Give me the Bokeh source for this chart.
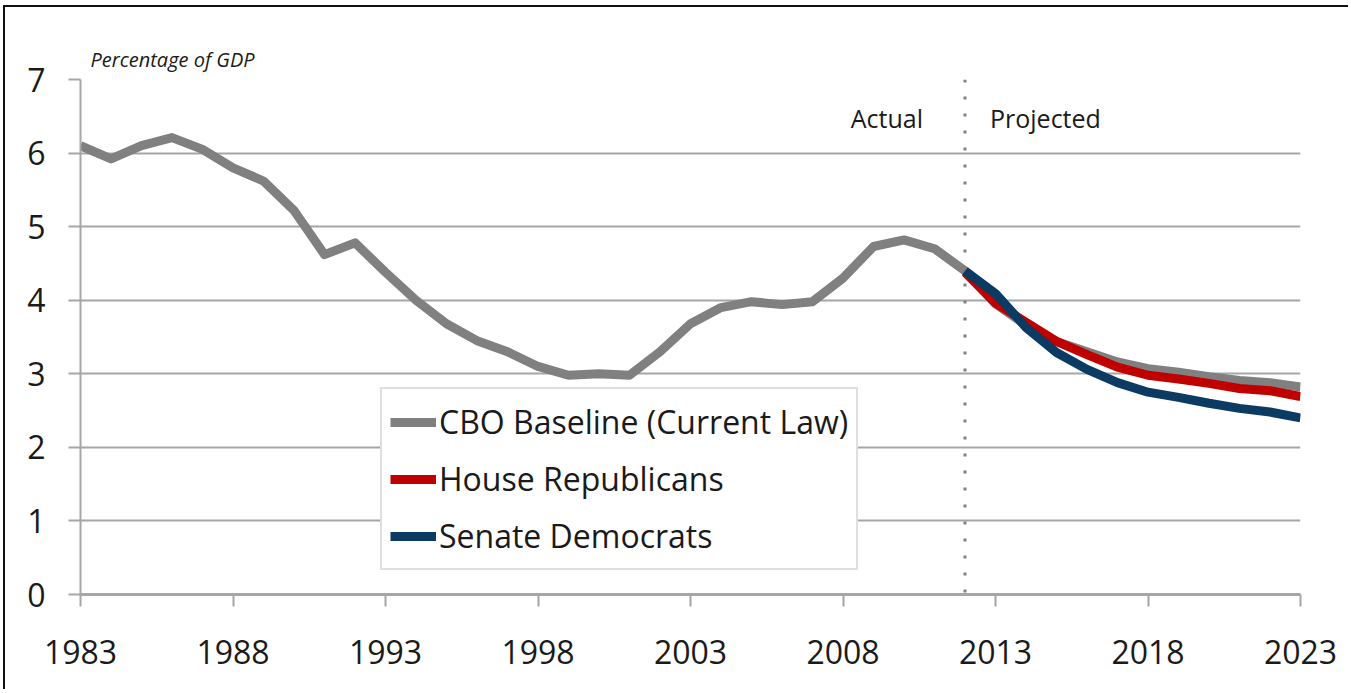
from bokeh.plotting import figure
from bokeh.models import Span, Label, Legend, LegendItem, FixedTicker
from bokeh.embed import file_html
from bokeh.resources import INLINE

# ---- data ----
years_actual = list(range(1983, 2013))
cbo_actual = [6.10, 5.92, 6.10, 6.21, 6.05, 5.80, 5.62, 5.22, 4.62, 4.78,
              4.38, 4.00, 3.68, 3.45, 3.30, 3.10, 2.98, 3.00, 2.98, 3.30,
              3.68, 3.90, 3.98, 3.94, 3.98, 4.30, 4.73, 4.82, 4.70, 4.40]
years_proj = list(range(2012, 2024))
cbo_proj = [4.40, 3.95, 3.66, 3.44, 3.30, 3.16, 3.07, 3.02, 2.96, 2.91, 2.88, 2.82]
house_rep = [4.38, 3.96, 3.70, 3.44, 3.26, 3.09, 2.98, 2.93, 2.87, 2.80, 2.77, 2.69]
senate_dem = [4.40, 4.09, 3.63, 3.29, 3.06, 2.88, 2.75, 2.68, 2.60, 2.53, 2.48, 2.40]
x_ticks = [1983, 1988, 1993, 1998, 2003, 2008, 2013, 2018, 2023]
y_ticks = [0, 1, 2, 3, 4, 5, 6, 7]
divider_year = 2012

cbo_years = years_actual + years_proj[1:]
cbo_vals = cbo_actual + cbo_proj[1:]

FONT = "Open Sans"
GRAY = "#808080"
RED = "#c00000"
BLUE = "#0b3a63"
AXIS = "#a6a6a6"

p = figure(width=1345, height=684, output_backend="svg", toolbar_location=None,
           x_range=(1983, 2023), y_range=(0, 7),
           min_border_left=75, min_border_right=50, min_border_top=72,
           min_border_bottom=97)
p.styles = {"border-top": "2px solid #111", "border-left": "2px solid #111",
            "margin-left": "3px", "margin-top": "5px"}
p.outline_line_color = None
p.background_fill_color = "white"
p.border_fill_color = "white"

p.title.text = "Percentage of GDP"
p.title.align = "left"
p.title.offset = 10
p.title.standoff = 13
p.title.text_font = FONT
p.title.text_font_style = "italic"
p.title.text_font_size = "20px"
p.title.text_color = "#1a1a1a"

# axes
p.xaxis.ticker = FixedTicker(ticks=x_ticks)
p.yaxis.ticker = FixedTicker(ticks=y_ticks)
for ax in (p.xaxis[0], p.yaxis[0]):
    ax.axis_line_color = AXIS
    ax.major_tick_line_color = AXIS
    ax.major_tick_line_width = 2
    ax.major_tick_out = 12
    ax.major_tick_in = 0
    ax.minor_tick_line_color = None
    ax.major_label_text_font = FONT
    ax.major_label_text_font_size = "32px"
    ax.major_label_text_color = "#1a1a1a"
p.xaxis.axis_line_width = 3
p.yaxis.axis_line_width = 2
p.xaxis.major_label_standoff = 33
p.yaxis.major_label_standoff = 23
p.xgrid.grid_line_color = None
p.ygrid.grid_line_color = AXIS
p.ygrid.grid_line_width = 2

# lines
r_cbo = p.line(cbo_years, cbo_vals, line_color=GRAY, line_width=9, line_join="round")
r_rep = p.line(years_proj, house_rep, line_color=RED, line_width=9, line_join="round")
r_dem = p.line(years_proj, senate_dem, line_color=BLUE, line_width=9, line_join="round")

# divider
p.add_layout(Span(location=divider_year, dimension="height", line_color=GRAY,
                  line_width=3, line_dash="3 14"))

p.add_layout(Label(x=divider_year, y=6.47, x_offset=-42, text="Actual",
                   text_align="right", text_baseline="middle", text_font=FONT,
                   text_font_size="25px", text_color="#1a1a1a"))
p.add_layout(Label(x=divider_year, y=6.47, x_offset=25, text="Projected",
                   text_align="left", text_baseline="middle", text_font=FONT,
                   text_font_size="25px", text_color="#1a1a1a"))

legend = Legend(items=[LegendItem(label="CBO Baseline (Current Law)", renderers=[r_cbo]),
                       LegendItem(label="House Republicans", renderers=[r_rep]),
                       LegendItem(label="Senate Democrats", renderers=[r_dem])],
                location=(300, 24), orientation="vertical",
                glyph_width=46, glyph_height=20, label_standoff=3,
                label_height=49, spacing=8, padding=8, margin=0,
                label_text_font=FONT, label_text_font_size="32px",
                label_text_color="#1a1a1a",
                border_line_color="#bfbfbf", border_line_width=2,
                background_fill_color="white", background_fill_alpha=1.0)
p.add_layout(legend, "center")

open("out.html", "w").write(file_html(p, INLINE))
